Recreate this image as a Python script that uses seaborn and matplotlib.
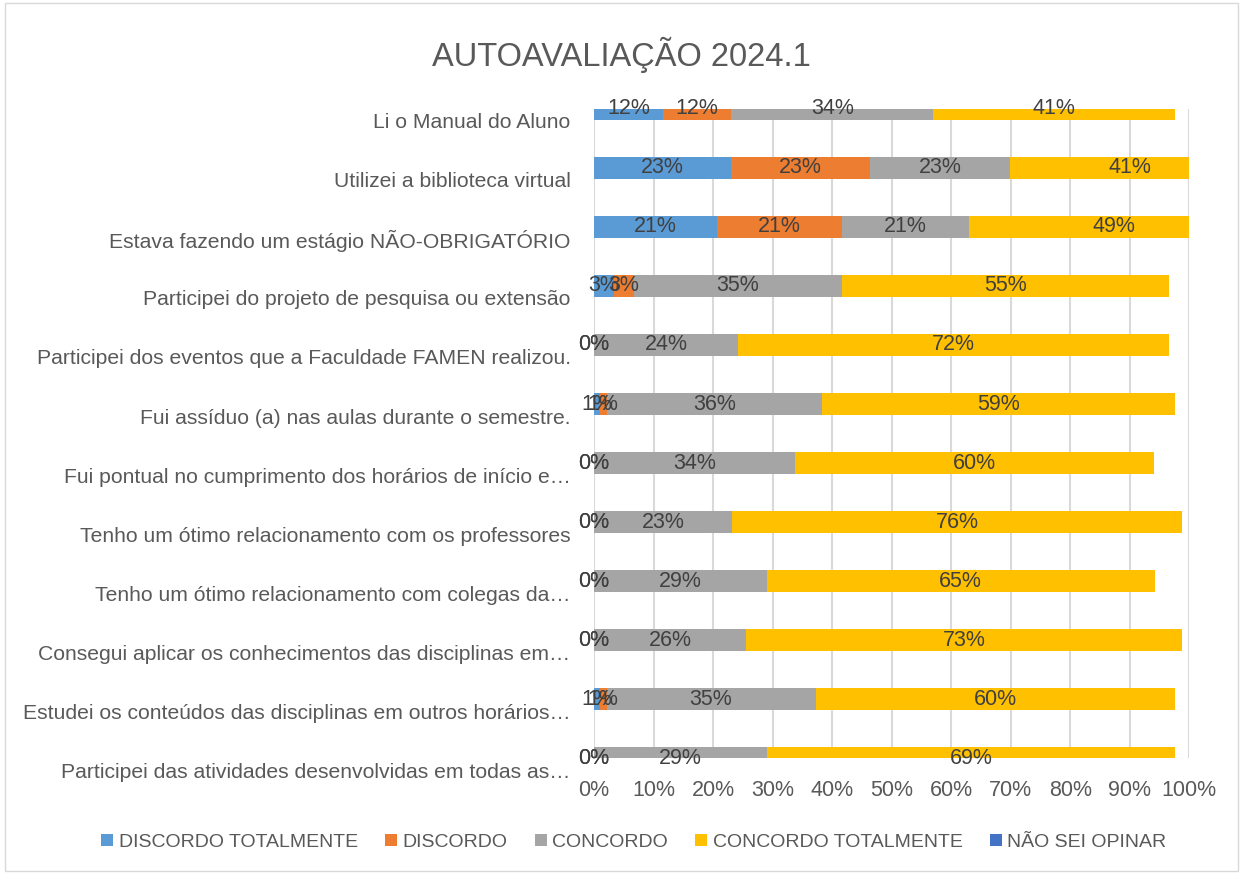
import numpy as np
import pandas as pd
import matplotlib
matplotlib.use('Agg')
import matplotlib.pyplot as plt
import matplotlib.transforms as mtransforms
from matplotlib.patches import Rectangle, Patch
import seaborn as sns

# data (shares of answers)
questions = [
    'Li o Manual do Aluno',
    'Utilizei a biblioteca virtual',
    'Estava fazendo um estágio NÃO-OBRIGATÓRIO',
    'Participei do projeto de pesquisa ou extensão',
    'Participei dos eventos que a Faculdade FAMEN realizou.',
    'Fui assíduo (a) nas aulas durante o semestre.',
    'Fui pontual no cumprimento dos horários de início e…',
    'Tenho um ótimo relacionamento com os professores',
    'Tenho um ótimo relacionamento com colegas da…',
    'Consegui aplicar os conhecimentos das disciplinas em…',
    'Estudei os conteúdos das disciplinas em outros horários…',
    'Participei das atividades desenvolvidas em todas as…',
]
discordo_total = [0.115, 0.230, 0.207, 0.033, 0.0, 0.009, 0.0, 0.0, 0.0, 0.0, 0.009, 0.0]
discordo = [0.115, 0.234, 0.209, 0.034, 0.0, 0.012, 0.0, 0.0, 0.0, 0.0, 0.012, 0.0]
concordo = [0.340, 0.234, 0.213, 0.349, 0.242, 0.362, 0.337, 0.231, 0.290, 0.255, 0.351, 0.290]
concordo_total = [0.406, 0.405, 0.488, 0.550, 0.724, 0.593, 0.604, 0.757, 0.652, 0.733, 0.604, 0.686]
nao_sei = [0.0] * 12

series_names = ['DISCORDO TOTALMENTE', 'DISCORDO', 'CONCORDO', 'CONCORDO TOTALMENTE', 'NÃO SEI OPINAR']
series_vals = [discordo_total, discordo, concordo, concordo_total, nao_sei]
colors = ['#5B9BD5', '#ED7D31', '#A5A5A5', '#FFC000', '#4472C4']

df = pd.DataFrame(dict(zip(series_names, series_vals)), index=questions)
cum = df.cumsum(axis=1)

sns.set_style('white')
plt.rcParams['font.family'] = ['Liberation Sans', 'DejaVu Sans']

fig = plt.figure(figsize=(12.43, 8.74), dpi=100)
ax = fig.add_axes([0.478, 0.1327, 0.4788, 0.7426])

# stacked bars: draw cumulative totals from the right-most series back
for name, col in reversed(list(zip(series_names, colors))):
    sns.barplot(x=cum[name].values, y=questions, order=questions, color=col,
                orient='h', width=0.37, ax=ax, linewidth=0, saturation=1)

ax.set_xlim(0, 1)
ax.set_ylim(len(questions) - 1, 0)
ax.set_xticks(np.arange(0, 1.01, 0.1))
ax.set_xticklabels([f'{int(round(t * 100))}%' for t in np.arange(0, 1.01, 0.1)],
                   fontsize=15.5, color='#595959')
ax.tick_params(axis='x', length=0, pad=16)
ax.tick_params(axis='y', length=0, pad=17, labelsize=15.2, labelcolor='#595959')
ax.xaxis.grid(True, color='#D9D9D9', lw=1.5)
ax.set_axisbelow(True)
for s in ax.spines.values():
    s.set_visible(False)
ax.set_xlabel('')
ax.set_ylabel('')

# category labels sit a little below the bars, as in the original
shift = mtransforms.ScaledTranslation(0, -12 / 100, fig.dpi_scale_trans)
for lab in ax.get_yticklabels():
    lab.set_transform(lab.get_transform() + shift)

# data labels at segment centres
for name in series_names[:4]:
    starts = cum[name] - df[name]
    for i, q in enumerate(questions):
        v = df.loc[q, name]
        ax.text(starts[q] + v / 2, i, f'{int(v * 100 + 0.5)}%', ha='center', va='center',
                fontsize=15.5, color='#404040', clip_on=False)

fig.suptitle('AUTOAVALIAÇÃO 2024.1', y=0.958, fontsize=23.5, color='#595959')

handles = [Patch(facecolor=c, edgecolor='none') for c in colors]
fig.legend(handles, series_names, loc='center', bbox_to_anchor=(0.51, 0.036), ncol=5,
           frameon=False, fontsize=14, handlelength=0.6, handleheight=0.6,
           handletextpad=0.3, columnspacing=1.4, labelcolor='#595959')

fig.patches.append(Rectangle((0.004, 0.004), 0.992, 0.992, transform=fig.transFigure,
                             fill=False, edgecolor='#D9D9D9', lw=1))

fig.savefig('out.png', dpi=100)
